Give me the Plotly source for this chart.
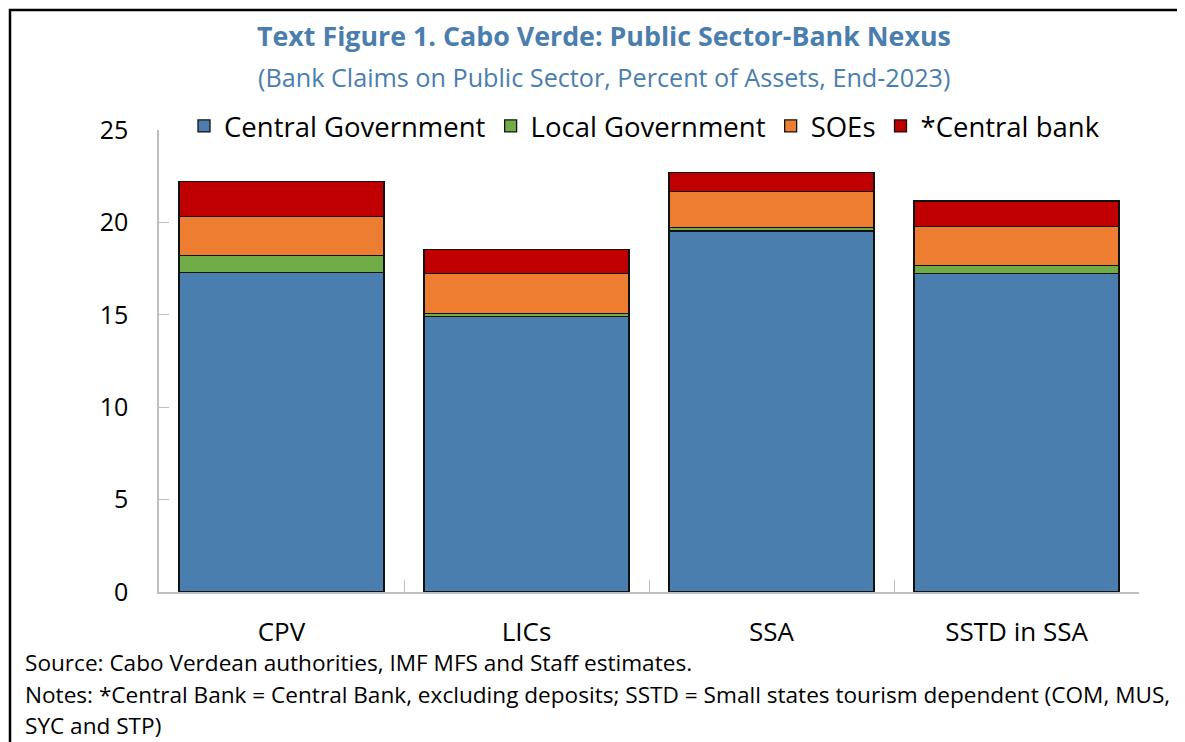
import plotly.graph_objects as go

categories = ["CPV", "LICs", "SSA", "SSTD in SSA"]
central_government = [17.30, 14.90, 19.53, 17.25]
local_government = [0.92, 0.18, 0.18, 0.41]
soes = [2.09, 2.17, 1.97, 2.11]
central_bank = [1.91, 1.29, 1.01, 1.39]

series = [
    ("Central Government", central_government, "#4A7EAE"),
    ("Local Government", local_government, "#70AD47"),
    ("SOEs", soes, "#ED7D31"),
    ("*Central bank", central_bank, "#C00000"),
]

OFF = 8  # page body margin
W, H = 1185 - OFF, 742 - OFF
L, R, T, B = 151, 46, 122, 150
pw, ph = W - L - R, H - T - B

def px(x):
    return (x - OFF - L) / pw

def py(y):
    return (H - B - (y - OFF)) / ph

FONT = "Open Sans"
BLUE = "#4A7EAE"

fig = go.Figure()
for name, vals, col in series:
    fig.add_trace(go.Bar(
        x=categories, y=vals, name=name,
        marker=dict(color=col, line=dict(color="#111111", width=1.3)),
    ))

fig.update_layout(
    width=W, height=H,
    margin=dict(l=L, r=R, t=T, b=B),
    barmode="stack", bargap=0.163,
    plot_bgcolor="white", paper_bgcolor="white",
    font=dict(family=FONT, size=25, color="#000000"),
    showlegend=True,
    legend=dict(orientation="h", traceorder="normal", x=px(184), y=py(126),
                xanchor="left", yanchor="middle",
                font=dict(size=27.5), itemclick=False, bgcolor="rgba(0,0,0,0)",
                tracegroupgap=0, itemwidth=30),
    xaxis=dict(showline=True, linecolor="#BFBFBF", linewidth=1.5, ticks="inside",
               tickson="boundaries", ticklen=12, tickcolor="#BFBFBF",
               ticklabelstandoff=16, tickfont=dict(size=26), showgrid=False),
    yaxis=dict(range=[0, 25], tickvals=[0, 5, 10, 15, 20, 25], showline=True,
               linecolor="#BFBFBF", linewidth=1.5, ticks="inside", ticklen=10,
               tickcolor="#BFBFBF", ticklabelstandoff=24, tickfont=dict(size=25),
               showgrid=False, zeroline=False),
)

annotations = [
    dict(text="<b>Text Figure 1. Cabo Verde: Public Sector-Bank Nexus</b>", x=px(604), y=py(35),
         font=dict(size=26.8, color=BLUE)),
    dict(text="(Bank Claims on Public Sector, Percent of Assets, End-2023)", x=px(604), y=py(77),
         font=dict(size=25.2, color=BLUE)),
]
for a in annotations:
    a.update(xref="paper", yref="paper", showarrow=False, xanchor="center", yanchor="middle")
    fig.add_annotation(**a)

notes = [
    ("Source: Cabo Verdean authorities, IMF MFS and Staff estimates.", 662),
    ("Notes: *Central Bank = Central Bank, excluding deposits; SSTD = Small states tourism dependent (COM, MUS,", 694),
    ("SYC and STP)", 725),
]
for txt, y in notes:
    fig.add_annotation(text=txt, x=px(23), y=py(y), xref="paper", yref="paper", showarrow=False,
                       xanchor="left", yanchor="middle", font=dict(size=22.6, color="#000000"))

fig.add_shape(type="rect", xref="paper", yref="paper", x0=px(10), y0=py(760), x1=px(1200), y1=py(10),
              line=dict(color="#000000", width=2.5), fillcolor="rgba(0,0,0,0)", layer="above")

fig.write_html("out.html")
